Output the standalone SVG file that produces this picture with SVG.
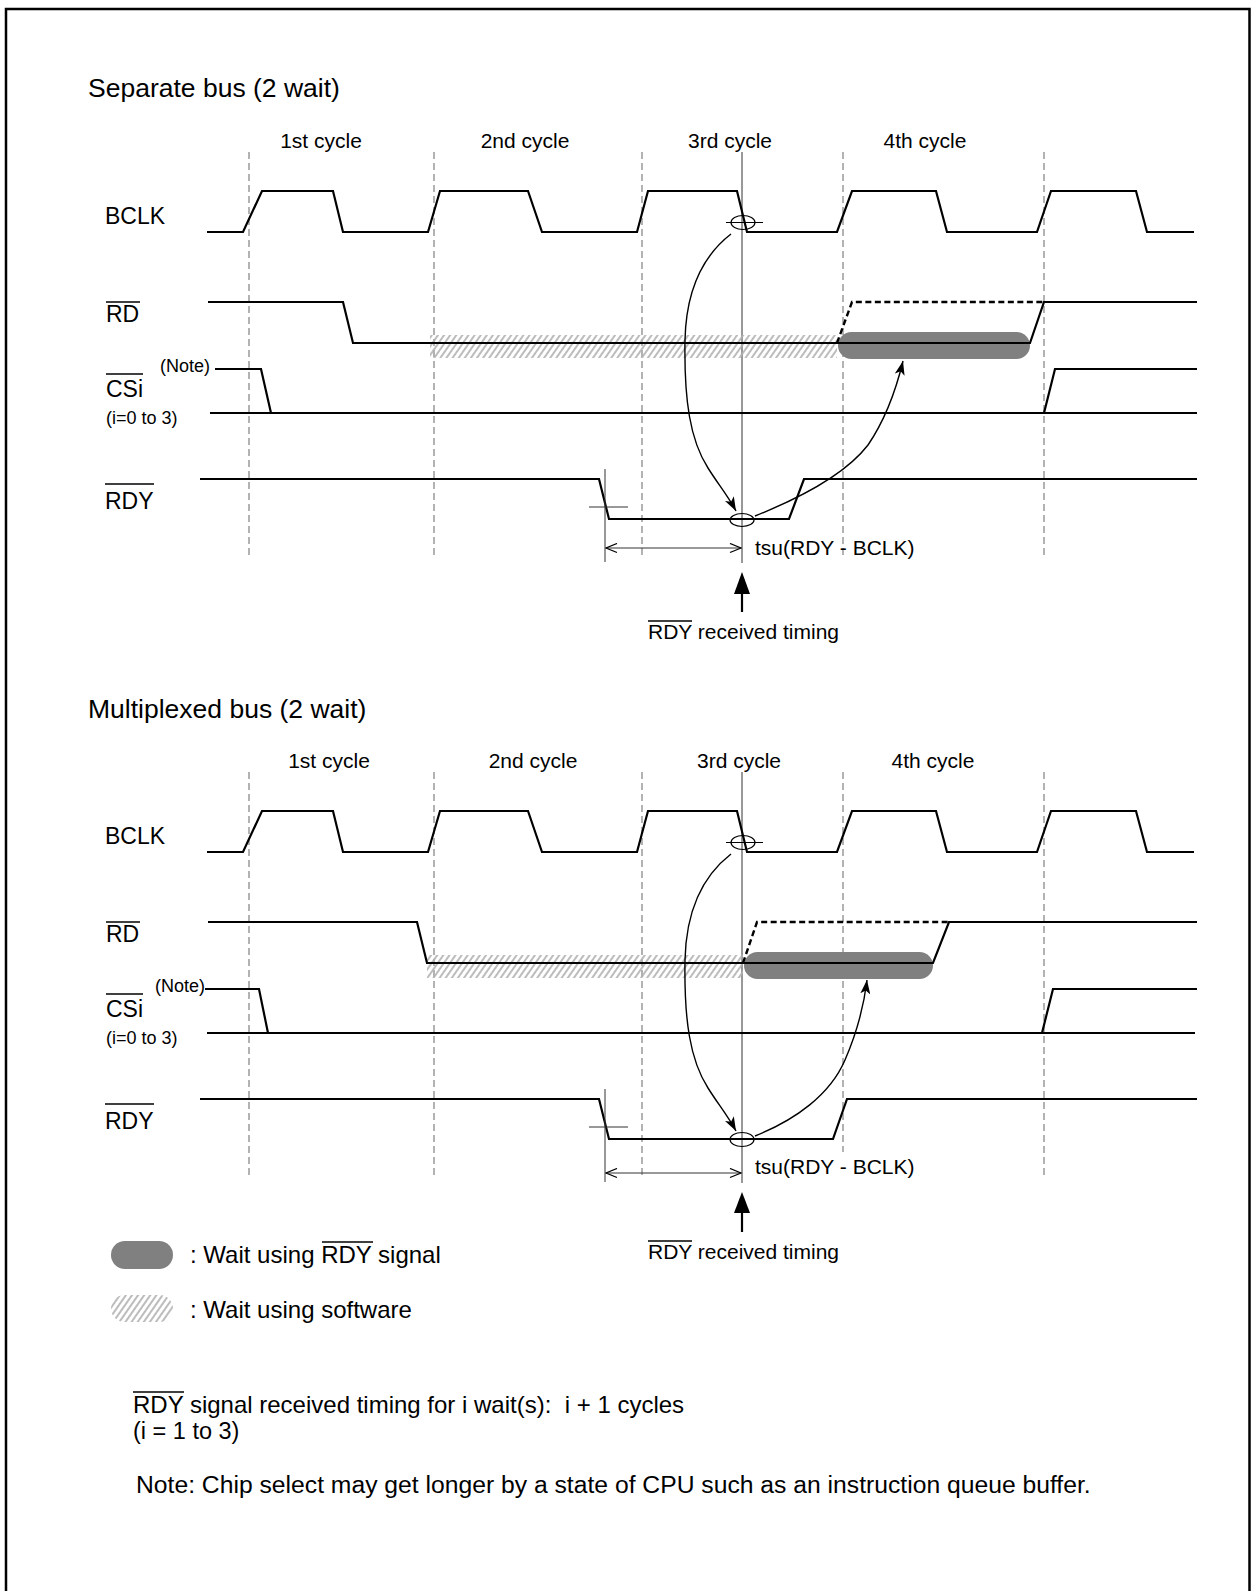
<svg xmlns="http://www.w3.org/2000/svg" width="1251" height="1591" viewBox="0 0 1251 1591">
<defs>
<style>
.t{font-family:"Liberation Sans",Arial,sans-serif;fill:#000}
.w{fill:none;stroke:#000;stroke-width:2.2;stroke-linejoin:miter}
.dash{fill:none;stroke:#808080;stroke-width:1.2;stroke-dasharray:7 4}
.thin{fill:none;stroke:#333;stroke-width:1}
.ol{stroke:#000;stroke-width:1.5}
.wd{fill:none;stroke:#000;stroke-width:2.4;stroke-dasharray:6 3.5}
.cap{fill:#808080}
.hat{fill:url(#hatch)}
.cv{fill:none;stroke:#000;stroke-width:1.4}
.el{fill:none;stroke:#000;stroke-width:1.2}
</style>
<pattern id="hatch" patternUnits="userSpaceOnUse" width="5" height="5" patternTransform="rotate(35)">
<line x1="1" y1="0" x2="1" y2="5" stroke="#b0b0b0" stroke-width="1.7"/>
</pattern>
<marker id="ah" markerWidth="15" markerHeight="10" refX="14" refY="5" orient="auto" markerUnits="userSpaceOnUse">
<path d="M0,0 L14,5 L0,10 L3.5,5 Z" fill="#000"/>
</marker>
<marker id="oa" markerWidth="13" markerHeight="11" refX="12" refY="5.5" orient="auto-start-reverse" markerUnits="userSpaceOnUse">
<path d="M1,1 L12,5.5 L1,10" fill="none" stroke="#000" stroke-width="1.3"/>
</marker>
</defs>
<rect width="1251" height="1591" fill="#fff"/>
<g id="frame">
<path d="M6,1591 L6,9 L1249.5,9 L1249.5,1591" fill="none" stroke="#000" stroke-width="2.5"/>
</g>

<!-- ============ TOP: Separate bus ============ -->
<g id="top-title"><text class="t" x="88" y="97" font-size="26.5">Separate bus (2 wait)</text></g>
<g id="top-cycles" class="t" font-size="21" text-anchor="middle">
<text x="321" y="148">1st cycle</text>
<text x="525" y="148">2nd cycle</text>
<text x="730" y="148">3rd cycle</text>
<text x="925" y="148">4th cycle</text>
</g>
<g id="top-grid">
<line class="dash" x1="249" y1="152" x2="249" y2="557"/>
<line class="dash" x1="434" y1="152" x2="434" y2="557"/>
<line class="dash" x1="642" y1="152" x2="642" y2="557"/>
<line class="dash" x1="843" y1="152" x2="843" y2="557"/>
<line class="dash" x1="1044" y1="152" x2="1044" y2="557"/>
<line class="thin" x1="742" y1="152" x2="742" y2="563"/>
</g>
<g id="top-labels" class="t">
<text x="105" y="224" font-size="23">BCLK</text>
<text x="106" y="322" font-size="23">RD</text>
<line class="ol" x1="106" y1="302" x2="140" y2="302"/>
<text x="210" y="372" font-size="18" text-anchor="end">(Note)</text>
<text x="106" y="397" font-size="23">CSi</text>
<line class="ol" x1="106" y1="374" x2="143" y2="374"/>
<text x="106" y="424" font-size="18">(i=0 to 3)</text>
<text x="105" y="509" font-size="23">RDY</text>
<line class="ol" x1="105" y1="484" x2="154" y2="484"/>
</g>
<g id="top-bclk">
<path class="w" d="M207,232 L243,232 L262,191 L333,191 L343,232 L428,232 L440,191 L528,191 L542,232 L637,232 L648,191 L737,191 L747,232 L837,232 L852,191 L936,191 L947,232 L1037,232 L1051,191 L1136,191 L1147,232 L1194,232"/>
<ellipse class="el" cx="743" cy="222.5" rx="12" ry="7"/>
<line class="el" x1="726" y1="222.5" x2="763" y2="222.5"/>
</g>
<g id="top-rd">
<rect class="hat" x="430" y="335" width="407" height="23"/>
<rect class="cap" x="838" y="332" width="192" height="27" rx="13.5"/>
<path class="wd" d="M837,343 L852,302 L1044,302"/>
<path class="w" d="M208,302 L343,302 L353,343 L1030,343 L1044,302 L1197,302"/>
</g>
<g id="top-cs">
<path class="w" d="M215,369 L261,369 L271,413"/>
<path class="w" d="M210,413 L1197,413"/>
<path class="w" d="M1044,413 L1055,369 L1197,369"/>
</g>
<g id="top-rdy">
<path class="w" d="M200,479 L599,479 L609,519 L789,519 L804,479 L1197,479"/>
<line class="thin" x1="605" y1="469" x2="605" y2="562"/>
<line class="thin" x1="589" y1="507" x2="628" y2="507"/>
<ellipse class="el" cx="742" cy="520" rx="12" ry="6.5"/>
</g>
<g id="top-timing" class="t">
<text x="755" y="555" font-size="21">tsu(RDY - BCLK)</text>
<text x="648" y="639" font-size="21">RDY received timing</text>
<line class="ol" x1="648" y1="621" x2="692" y2="621"/>
</g>

<!-- ============ BOTTOM: Multiplexed bus ============ -->
<g id="bot-title"><text class="t" x="88" y="718" font-size="26.5">Multiplexed bus (2 wait)</text></g>
<g id="bot-cycles" class="t" font-size="21" text-anchor="middle">
<text x="329" y="768">1st cycle</text>
<text x="533" y="768">2nd cycle</text>
<text x="739" y="768">3rd cycle</text>
<text x="933" y="768">4th cycle</text>
</g>
<g id="bot-grid">
<line class="dash" x1="249" y1="772" x2="249" y2="1177"/>
<line class="dash" x1="434" y1="772" x2="434" y2="1177"/>
<line class="dash" x1="642" y1="772" x2="642" y2="1177"/>
<line class="dash" x1="843" y1="772" x2="843" y2="1152"/>
<line class="dash" x1="1044" y1="772" x2="1044" y2="1177"/>
<line class="thin" x1="742" y1="772" x2="742" y2="1183"/>
</g>
<g id="bot-labels" class="t">
<text x="105" y="844" font-size="23">BCLK</text>
<text x="106" y="942" font-size="23">RD</text>
<line class="ol" x1="106" y1="922" x2="140" y2="922"/>
<text x="205" y="992" font-size="18" text-anchor="end">(Note)</text>
<text x="106" y="1017" font-size="23">CSi</text>
<line class="ol" x1="106" y1="994" x2="143" y2="994"/>
<text x="106" y="1044" font-size="18">(i=0 to 3)</text>
<text x="105" y="1129" font-size="23">RDY</text>
<line class="ol" x1="105" y1="1104" x2="154" y2="1104"/>
</g>
<g id="bot-bclk">
<path class="w" d="M207,852 L243,852 L262,811 L333,811 L343,852 L428,852 L440,811 L528,811 L542,852 L637,852 L648,811 L737,811 L747,852 L837,852 L852,811 L936,811 L947,852 L1037,852 L1051,811 L1136,811 L1147,852 L1194,852"/>
<ellipse class="el" cx="743" cy="842.5" rx="12" ry="7"/>
<line class="el" x1="726" y1="842.5" x2="763" y2="842.5"/>
</g>
<g id="bot-rd">
<rect class="hat" x="427" y="955" width="316" height="23"/>
<rect class="cap" x="744" y="952" width="189" height="27" rx="13.5"/>
<path class="wd" d="M743,963 L757,922 L949,922"/>
<path class="w" d="M208,922 L417,922 L427,963 L933,963 L949,922 L1197,922"/>
</g>
<g id="bot-cs">
<path class="w" d="M205,989 L259,989 L268,1033"/>
<path class="w" d="M207,1033 L1195,1033"/>
<path class="w" d="M1042,1033 L1053,989 L1197,989"/>
</g>
<g id="bot-rdy">
<path class="w" d="M200,1099 L599,1099 L609,1139 L833,1139 L847,1099 L1197,1099"/>
<line class="thin" x1="605" y1="1089" x2="605" y2="1182"/>
<line class="thin" x1="589" y1="1127" x2="628" y2="1127"/>
<ellipse class="el" cx="742" cy="1139.5" rx="12" ry="7"/>
</g>
<g id="bot-timing" class="t">
<text x="755" y="1174" font-size="21">tsu(RDY - BCLK)</text>
<text x="648" y="1259" font-size="21">RDY received timing</text>
<line class="ol" x1="648" y1="1241" x2="692" y2="1241"/>
</g>

<!-- ============ CONNECTORS ============ -->
<g id="connectors">
<path class="cv" d="M731,234 C700,258 686,295 685,340 C684,400 690,440 708,468 C718,484 728,496 736,511" marker-end="url(#ah)"/>
<path class="cv" d="M755,516 C800,498 845,475 868,445 C885,420 896,390 903,361" marker-end="url(#ah)"/>
<line class="thin" x1="606" y1="548" x2="741" y2="548" marker-start="url(#oa)" marker-end="url(#oa)"/>
<polygon points="742,572 734,594 750,594" fill="#000"/>
<line x1="742" y1="594" x2="742" y2="612" stroke="#000" stroke-width="2.2"/>

<path class="cv" d="M731,854 C700,878 686,915 685,960 C684,1020 690,1060 708,1088 C718,1104 728,1116 736,1131" marker-end="url(#ah)"/>
<path class="cv" d="M755,1136 C795,1120 830,1095 845,1060 C858,1030 864,1005 867,980" marker-end="url(#ah)"/>
<line class="thin" x1="606" y1="1173" x2="741" y2="1173" marker-start="url(#oa)" marker-end="url(#oa)"/>
<polygon points="742,1192 734,1213 750,1213" fill="#000"/>
<line x1="742" y1="1213" x2="742" y2="1232" stroke="#000" stroke-width="2.2"/>
</g>

<!-- ============ LEGEND & NOTES ============ -->
<g id="legend-rdy">
<rect class="cap" x="111" y="1241" width="62" height="28" rx="14"/>
<text class="t" x="190" y="1263" font-size="24">: Wait using RDY signal</text>
<line class="ol" x1="322" y1="1242" x2="373" y2="1242"/>
</g>
<g id="legend-sw">
<rect class="hat" x="111" y="1295" width="62" height="27" rx="13.5"/>
<text class="t" x="190" y="1318" font-size="24">: Wait using software</text>
</g>
<g id="note-timing" class="t">
<text x="133" y="1413" font-size="24" xml:space="preserve">RDY signal received timing for i wait(s):  i + 1 cycles</text>
<line class="ol" x1="133" y1="1392" x2="184" y2="1392"/>
<text x="133" y="1439" font-size="23.5">(i = 1 to 3)</text>
</g>
<g id="note-chip">
<text class="t" x="136" y="1493" font-size="24.7">Note: Chip select may get longer by a state of CPU such as an instruction queue buffer.</text>
</g>
</svg>
